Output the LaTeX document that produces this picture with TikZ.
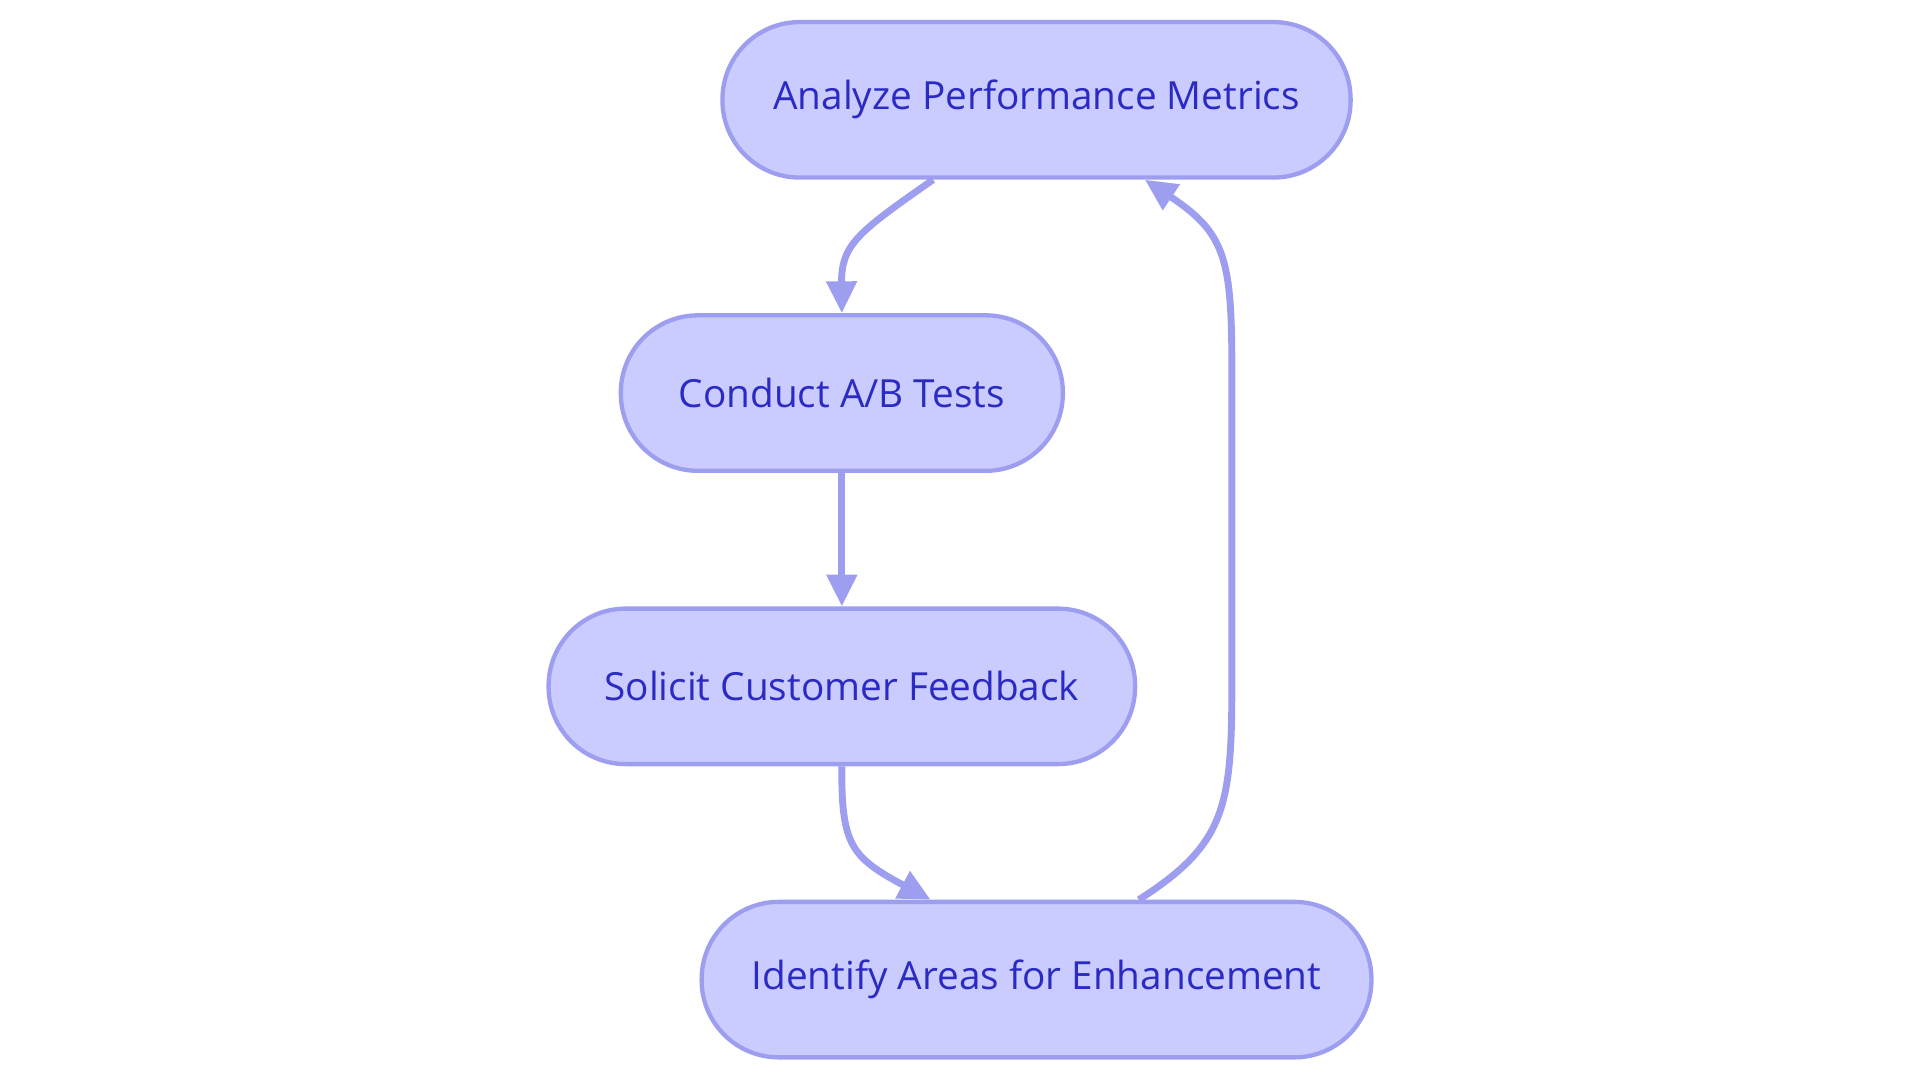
\documentclass[tikz,border=0pt]{standalone}
\usepackage{fontspec}
\setmainfont{Open Sans}
\usetikzlibrary{arrows.meta}
\definecolor{boxfill}{HTML}{CACBFE}
\definecolor{boxline}{HTML}{9D9EEF}
\definecolor{boxtext}{HTML}{2B2BC4}
\tikzset{
  stage/.style={draw=boxline, fill=boxfill, line width=1pt, rounded corners=0.63cm,
    minimum height=1.27cm, inner xsep=0pt, text=boxtext, font=\fontsize{9}{11}\selectfont},
  flow/.style={draw=boxline, line width=1.6pt, -{Triangle[length=0.26cm,width=0.24cm]}}
}
\begin{document}
\begin{tikzpicture}
\useasboundingbox (0,0) rectangle (15.68,-8.85);

\node[stage, minimum width=5.13cm] (analyze) at (8.465,-0.815) {Analyze Performance Metrics};
\node[stage, minimum width=3.61cm] (abtest) at (6.875,-3.21) {Conduct A/B Tests};
\node[stage, minimum width=4.79cm] (feedback) at (6.875,-5.605) {Solicit Customer Feedback};
\node[stage, minimum width=5.47cm] (enhance) at (8.465,-8.0) {Identify Areas for Enhancement};

% connectors
\draw[flow] (analyze.south -| 7.62,0) .. controls (7.0,-1.9) and (6.87,-2.0) .. (abtest.north);
\draw[flow] (abtest) -- (feedback);
\draw[flow] (feedback.south) .. controls (6.87,-6.9) and (6.95,-7.0) .. (enhance.north -| 7.6,0);
\draw[flow] (enhance.north -| 9.3,0) .. controls (10.0,-6.9) and (10.06,-6.6) .. (10.06,-5.6)
  -- (10.06,-3.0) .. controls (10.06,-2.1) and (10.0,-1.9) .. (analyze.south -| 9.35,0);

\end{tikzpicture}
\end{document}
